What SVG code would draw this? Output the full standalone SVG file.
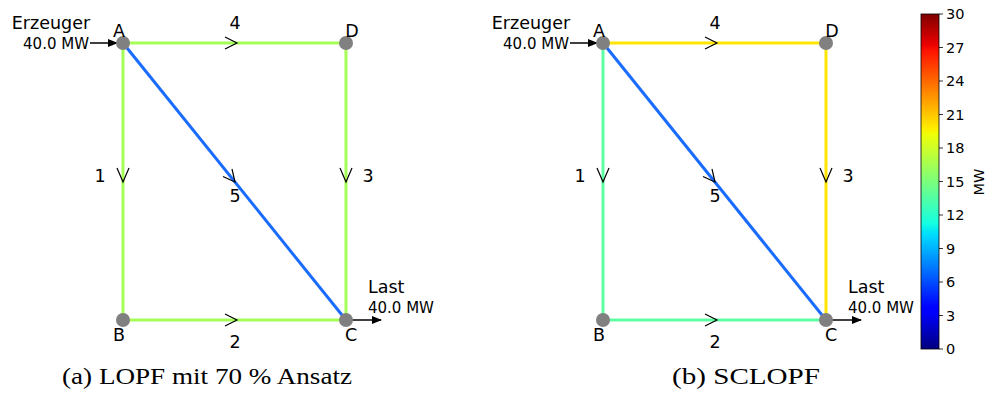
<svg xmlns="http://www.w3.org/2000/svg" width="989" height="399" viewBox="0 0 989 399">
<defs>
<style>
.t{font-family:"DejaVu Sans",sans-serif;fill:#000}
.lbl{font-size:17.5px}
.sm{font-size:15px}
.cap{font-family:"Liberation Serif","DejaVu Serif",serif;font-size:23px;fill:#000}
.node{fill:#808080}
.edge{stroke-width:3;fill:none}
.chev{stroke:#000;stroke-width:1.2;fill:none}
.ext{stroke:#000;stroke-width:1.5;fill:none}
.tick{font-family:"DejaVu Sans",sans-serif;font-size:14.5px;fill:#000}
</style>
<marker id="ah" markerWidth="10" markerHeight="8" refX="9" refY="4" orient="auto" markerUnits="userSpaceOnUse">
<path d="M0,0 L10,4 L0,8 Z" fill="#000"/>
</marker>
<linearGradient id="jet" x1="0" y1="1" x2="0" y2="0">
<stop offset="0" stop-color="#000080"/>
<stop offset="0.11" stop-color="#0000ff"/>
<stop offset="0.125" stop-color="#0000ff"/>
<stop offset="0.34" stop-color="#00dbff"/>
<stop offset="0.35" stop-color="#00e5f7"/>
<stop offset="0.375" stop-color="#15ffe2"/>
<stop offset="0.64" stop-color="#eeff08"/>
<stop offset="0.65" stop-color="#f7f500"/>
<stop offset="0.66" stop-color="#ffec00"/>
<stop offset="0.89" stop-color="#ff1300"/>
<stop offset="0.91" stop-color="#e80000"/>
<stop offset="1" stop-color="#800000"/>
</linearGradient>
</defs>
<rect width="989" height="399" fill="#fff"/>

<!-- Left panel -->
<g id="panelA">
<g id="connectorsA">
<line class="edge" x1="123" y1="43" x2="123" y2="320" stroke="#a6ff55"/>
<line class="edge" x1="123" y1="320" x2="346" y2="320" stroke="#a6ff55"/>
<line class="edge" x1="346" y1="43" x2="346" y2="320" stroke="#a6ff55"/>
<line class="edge" x1="123" y1="43" x2="346" y2="43" stroke="#a6ff55"/>
<line class="edge" x1="123" y1="43" x2="346" y2="320" stroke="#1a6cff" stroke-width="2.5"/>
<path class="chev" d="M225,37 L237,43 L225,49"/>
<path class="chev" d="M117,168 L123,182 L129,168"/>
<path class="chev" d="M340,168 L346,182 L352,168"/>
<path class="chev" d="M225,314 L237,320 L225,326"/>
<path class="chev" d="M223,176.5 L235,182 L232,169"/>
<line class="ext" x1="90" y1="43" x2="117" y2="43" marker-end="url(#ah)"/>
<line class="ext" x1="352" y1="320" x2="381" y2="320" marker-end="url(#ah)"/>
</g>
<g id="nodeA_A"><circle class="node" cx="123" cy="43" r="7"/><text class="t lbl" x="119" y="37" text-anchor="middle">A</text></g>
<g id="nodeA_D"><circle class="node" cx="346" cy="43" r="7"/><text class="t lbl" x="352" y="37" text-anchor="middle">D</text></g>
<g id="nodeA_B"><circle class="node" cx="123" cy="320" r="7"/><text class="t lbl" x="119" y="341" text-anchor="middle">B</text></g>
<g id="nodeA_C"><circle class="node" cx="346" cy="320" r="7"/><text class="t lbl" x="351" y="341" text-anchor="middle">C</text></g>
<text class="t lbl" x="235" y="29" text-anchor="middle">4</text>
<text class="t lbl" x="100" y="182" text-anchor="middle">1</text>
<text class="t lbl" x="368" y="182" text-anchor="middle">3</text>
<text class="t lbl" x="235" y="202" text-anchor="middle">5</text>
<text class="t lbl" x="235" y="348" text-anchor="middle">2</text>
<text class="t lbl" x="51" y="29" text-anchor="middle">Erzeuger</text>
<text class="t sm" x="89" y="49" text-anchor="end">40.0 MW</text>
<text class="t lbl" x="368" y="293">Last</text>
<text class="t sm" x="368" y="313">40.0 MW</text>
<text class="cap" x="62" y="384" textLength="290" lengthAdjust="spacingAndGlyphs">(a) LOPF mit 70 % Ansatz</text>
</g>

<!-- Right panel -->
<g id="panelB">
<g id="connectorsB">
<line class="edge" x1="603" y1="43" x2="603" y2="320" stroke="#5effa3"/>
<line class="edge" x1="603" y1="320" x2="826" y2="320" stroke="#5effa3"/>
<line class="edge" x1="826" y1="43" x2="826" y2="320" stroke="#ffe600"/>
<line class="edge" x1="603" y1="43" x2="826" y2="43" stroke="#ffe600"/>
<line class="edge" x1="603" y1="43" x2="826" y2="320" stroke="#1a6cff" stroke-width="2.5"/>
<path class="chev" d="M705,37 L717,43 L705,49"/>
<path class="chev" d="M597,168 L603,182 L609,168"/>
<path class="chev" d="M820,168 L826,182 L832,168"/>
<path class="chev" d="M705,314 L717,320 L705,326"/>
<path class="chev" d="M703,176.5 L715,182 L712,169"/>
<line class="ext" x1="570" y1="43" x2="597" y2="43" marker-end="url(#ah)"/>
<line class="ext" x1="832" y1="320" x2="861" y2="320" marker-end="url(#ah)"/>
</g>
<g id="nodeB_A"><circle class="node" cx="603" cy="43" r="7"/><text class="t lbl" x="599" y="37" text-anchor="middle">A</text></g>
<g id="nodeB_D"><circle class="node" cx="826" cy="43" r="7"/><text class="t lbl" x="832" y="37" text-anchor="middle">D</text></g>
<g id="nodeB_B"><circle class="node" cx="603" cy="320" r="7"/><text class="t lbl" x="599" y="341" text-anchor="middle">B</text></g>
<g id="nodeB_C"><circle class="node" cx="826" cy="320" r="7"/><text class="t lbl" x="831" y="341" text-anchor="middle">C</text></g>
<text class="t lbl" x="715" y="29" text-anchor="middle">4</text>
<text class="t lbl" x="580" y="182" text-anchor="middle">1</text>
<text class="t lbl" x="848" y="182" text-anchor="middle">3</text>
<text class="t lbl" x="715" y="202" text-anchor="middle">5</text>
<text class="t lbl" x="715" y="348" text-anchor="middle">2</text>
<text class="t lbl" x="531" y="29" text-anchor="middle">Erzeuger</text>
<text class="t sm" x="569" y="49" text-anchor="end">40.0 MW</text>
<text class="t lbl" x="848" y="293">Last</text>
<text class="t sm" x="848" y="313">40.0 MW</text>
<text class="cap" x="672" y="384" textLength="148" lengthAdjust="spacingAndGlyphs">(b) SCLOPF</text>
</g>

<!-- Colorbar -->
<g id="colorbar">
<rect x="921" y="14" width="18" height="335" fill="url(#jet)" stroke="#000" stroke-width="0.8"/>
<g stroke="#000" stroke-width="0.8">
<line x1="939" y1="14" x2="943" y2="14"/><line x1="939" y1="47.5" x2="943" y2="47.5"/>
<line x1="939" y1="81" x2="943" y2="81"/><line x1="939" y1="114.5" x2="943" y2="114.5"/>
<line x1="939" y1="148" x2="943" y2="148"/><line x1="939" y1="181.5" x2="943" y2="181.5"/>
<line x1="939" y1="215" x2="943" y2="215"/><line x1="939" y1="248.5" x2="943" y2="248.5"/>
<line x1="939" y1="282" x2="943" y2="282"/><line x1="939" y1="315.5" x2="943" y2="315.5"/>
<line x1="939" y1="349" x2="943" y2="349"/>
</g>
<text class="tick" x="946" y="19">30</text>
<text class="tick" x="946" y="52.5">27</text>
<text class="tick" x="946" y="86">24</text>
<text class="tick" x="946" y="119.5">21</text>
<text class="tick" x="946" y="153">18</text>
<text class="tick" x="946" y="186.5">15</text>
<text class="tick" x="946" y="220">12</text>
<text class="tick" x="946" y="253.5">9</text>
<text class="tick" x="946" y="287">6</text>
<text class="tick" x="946" y="320.5">3</text>
<text class="tick" x="946" y="354">0</text>
<text class="tick" x="0" y="0" transform="translate(984,182) rotate(-90)" text-anchor="middle">MW</text>
</g>
</svg>
